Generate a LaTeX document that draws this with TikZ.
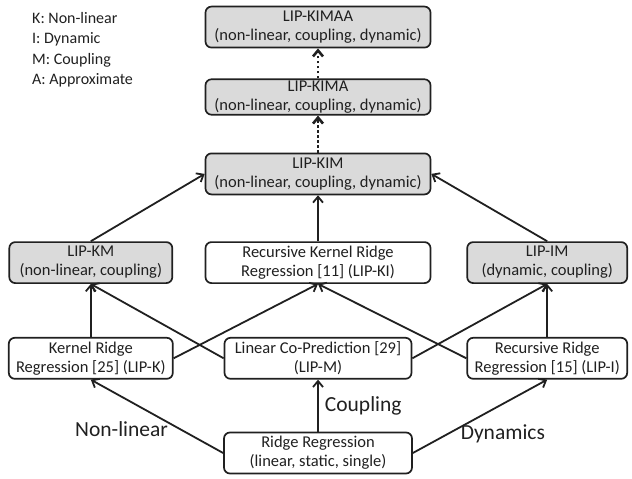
\documentclass[tikz,border=0pt]{standalone}
\usepackage{fontspec}
\setmainfont{Carlito}
\usetikzlibrary{positioning, arrows.meta}
\definecolor{GrayB}{HTML}{DADADA}
\definecolor{InkA}{HTML}{202020}
\tikzset{
  box/.style={draw=InkA, line width=1.7pt, rounded corners=6pt, align=center, font=\fontsize{16.5}{19}\selectfont, text=InkA, inner sep=1.5pt, minimum height=41pt},
  lip/.style={fill=GrayB},
  base/.style={fill=white},
  arr/.style={-{Straight Barb[length=6pt,width=10pt]}, line width=1.8pt, draw=InkA},
  dotarr/.style={arr, dash pattern=on 2.5pt off 2.5pt, line width=2.6pt},
  lbl/.style={font=\fontsize{21.5}{24}\selectfont, text=InkA, inner sep=0pt},
  legend/.style={align=left, font=\fontsize{16}{20.5}\selectfont, text=InkA, inner sep=0pt}
}

\begin{document}
\begin{tikzpicture}[x=1pt, y=-1pt]
  \useasboundingbox (0,0) rectangle (632,479);
  % key
  \node[legend, anchor=north west] (key) at (32,12) {K: Non-linear\\I: Dynamic\\M: Coupling\\A: Approximate};
  % first level
  \node[box,base,minimum width=188pt] (ridge) at (318,453) {Ridge Regression\\(linear, static, single)};
  \node[box,base,minimum width=187pt,above=52pt of ridge] (lcp) {Linear Co-Prediction [29]\\(LIP-M)};
  \node[box,base,minimum width=164pt,left=50pt of lcp] (kr) {Kernel Ridge\\Regression [25] (LIP-K)};
  \node[box,base,minimum width=160pt,right=54pt of lcp] (rr) {Recursive Ridge\\Regression [15] (LIP-I)};
  % second level
  \node[box,lip,minimum width=163pt,above=53pt of kr] (km) {LIP-KM\\(non-linear, coupling)};
  \node[box,base,minimum width=225pt,above=53pt of lcp] (rkr) {Recursive Kernel Ridge\\Regression [11] (LIP-KI)};
  \node[box,lip,minimum width=160pt,above=53pt of rr] (im) {LIP-IM\\(dynamic, coupling)};
  % top
  \node[box,lip,minimum width=225pt,above=46pt of rkr] (kim) {LIP-KIM\\(non-linear, coupling, dynamic)};
  \node[box,lip,minimum width=225pt,minimum height=35pt,above=37pt of kim] (kima) {LIP-KIMA\\(non-linear, coupling, dynamic)};
  \node[box,lip,minimum width=225pt,above=30pt of kima] (kimaa) {LIP-KIMAA\\(non-linear, coupling, dynamic)};

  \draw[arr] (ridge.west) -- node[lbl, pos=0.41, anchor=east, yshift=-6pt] {Non-linear} (kr.south);
  \draw[arr] (ridge.north) -- node[lbl, pos=0.5, anchor=west, xshift=6pt] {Coupling} (lcp.south);
  \draw[arr] (ridge.east) -- node[lbl, pos=0.35, anchor=west, yshift=-7pt] {Dynamics} (rr.south);

  \draw[arr] (kr.north) -- (km.south);
  \draw[arr] (kr.east) -- (rkr.south);
  \draw[arr] (lcp.west) -- (km.south);
  \draw[arr] (lcp.east) -- (im.south);
  \draw[arr] (rr.west) -- (rkr.south);
  \draw[arr] (rr.north) -- (im.south);

  \draw[arr] (km.north) -- (kim.west);
  \draw[arr] (rkr.north) -- (kim.south);
  \draw[arr] (im.north) -- (kim.east);
  \draw[dotarr] (kim.north) -- (kima.south);
  \draw[dotarr] (kima.north) -- (kimaa.south);
\end{tikzpicture}
\end{document}
